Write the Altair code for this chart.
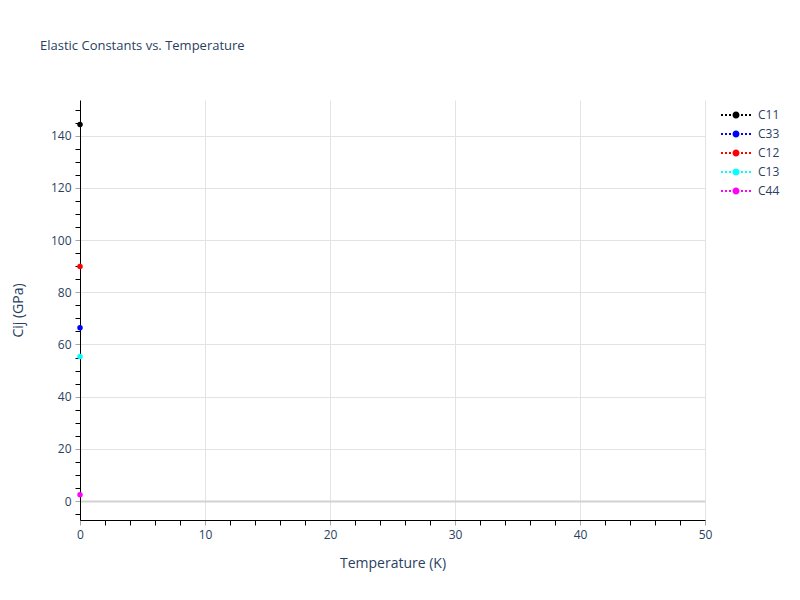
import altair as alt
import pandas as pd

series = ["C11", "C33", "C12", "C13", "C44"]
colors = ["#000000", "#0000ff", "#ff0000", "#00ffff", "#ff00ff"]
temperature = [0, 0, 0, 0, 0]
cij = [144.3, 66.4, 89.9, 55.4, 2.4]

df = pd.DataFrame({"series": series, "T": temperature, "Cij": cij})

FONT = "Open Sans"
TXT = "#2a3f5f"
GRID = "#e3e3e3"
MAJOR_TICK = "#a6a6a6"

# legend glyph: dotted line with a dot in the middle (path units: 1 unit = 7px)
h = 1 / 7
dots = "".join(
    f"M{c - h:.4f},{-h:.4f}h{2 * h:.4f}v{2 * h:.4f}h{-2 * h:.4f}Z"
    for c in [-2.0, -1.43, -0.857, 0.857, 1.43, 2.0]
)
circle = "M0.5,0A0.5,0.5 0 1 1 -0.5,0A0.5,0.5 0 1 1 0.5,0Z"
glyph = dots + circle

color_scale = alt.Scale(domain=series, range=colors)

x_enc = alt.X(
    "T:Q",
    title="Temperature (K)",
    scale=alt.Scale(domain=[0, 50], nice=False, zero=False),
    axis=alt.Axis(
        values=list(range(0, 51, 2)),
        tickCount=200,
        format="d",
        labelOverlap=False,
        labelFlush=False,
        labelExpr="datum.value % 10 === 0 ? datum.label : ''",
        gridOpacity={"condition": {"test": "datum.value % 10 === 0", "value": 1}, "value": 0},
        tickColor={"condition": {"test": "datum.value % 10 === 0", "value": MAJOR_TICK}, "value": "#000000"},
        tickSize=5,
        labelPadding=4,
        titlePadding=16,
    ),
)
y_enc = alt.Y(
    "Cij:Q",
    title="Cij (GPa)",
    scale=alt.Scale(domain=[-7.27, 153.7], nice=False, zero=False),
    axis=alt.Axis(
        values=list(range(-5, 151, 5)),
        tickCount=200,
        format="d",
        labelOverlap=False,
        labelFlush=False,
        labelExpr="datum.value % 20 === 0 ? datum.label : ''",
        gridOpacity={"condition": {"test": "datum.value % 20 === 0", "value": 1}, "value": 0},
        gridColor={"condition": {"test": "datum.value === 0", "value": "#d2d2d2"}, "value": GRID},
        gridWidth={"condition": {"test": "datum.value === 0", "value": 2}, "value": 1},
        tickColor={"condition": {"test": "datum.value % 20 === 0", "value": MAJOR_TICK}, "value": "#000000"},
        tickSize=5,
        labelPadding=4,
        titlePadding=25,
    ),
)

points = alt.Chart(df).mark_point(filled=True, size=30, opacity=1, clip=False).encode(
    x=x_enc,
    y=y_enc,
    color=alt.Color(
        "series:N",
        scale=color_scale,
        sort=series,
        legend=alt.Legend(
            title=None,
            orient="none",
            legendX=649,
            legendY=8,
            symbolType=glyph,
            symbolSize=196,
            symbolStrokeWidth=0,
            symbolOpacity=1,
            labelFont=FONT,
            labelFontSize=12,
            labelColor=TXT,
            labelOffset=15,
            rowPadding=6,
            padding=0,
        ),
    ),
)

lines = alt.Chart(df).mark_line(strokeDash=[2, 2], strokeWidth=2).encode(
    x="T:Q",
    y="Cij:Q",
    color=alt.Color("series:N", scale=color_scale, legend=None),
)

chart = (
    alt.layer(points, lines)
    .properties(
        width=625,
        height=420,
        title=alt.TitleParams(
            "Elastic Constants vs. Temperature",
            anchor="start",
            frame="group",
            dx=-40,
            offset=47,
            font=FONT,
            fontSize=13,
            fontWeight="normal",
            color=TXT,
        ),
        autosize=alt.AutoSizeParams(type="none"),
        padding={"left": 72, "top": 92, "right": 87, "bottom": 72},
    )
    .configure_view(stroke=None)
    .configure_axis(
        domainColor="#000000",
        domainWidth=1,
        labelFont=FONT,
        labelFontSize=12,
        labelColor=TXT,
        titleFont=FONT,
        titleFontSize=14,
        titleFontWeight="normal",
        titleColor=TXT,
        gridColor=GRID,
    )
)

chart.save("out.html", embed_options={"renderer": "svg", "actions": False})
